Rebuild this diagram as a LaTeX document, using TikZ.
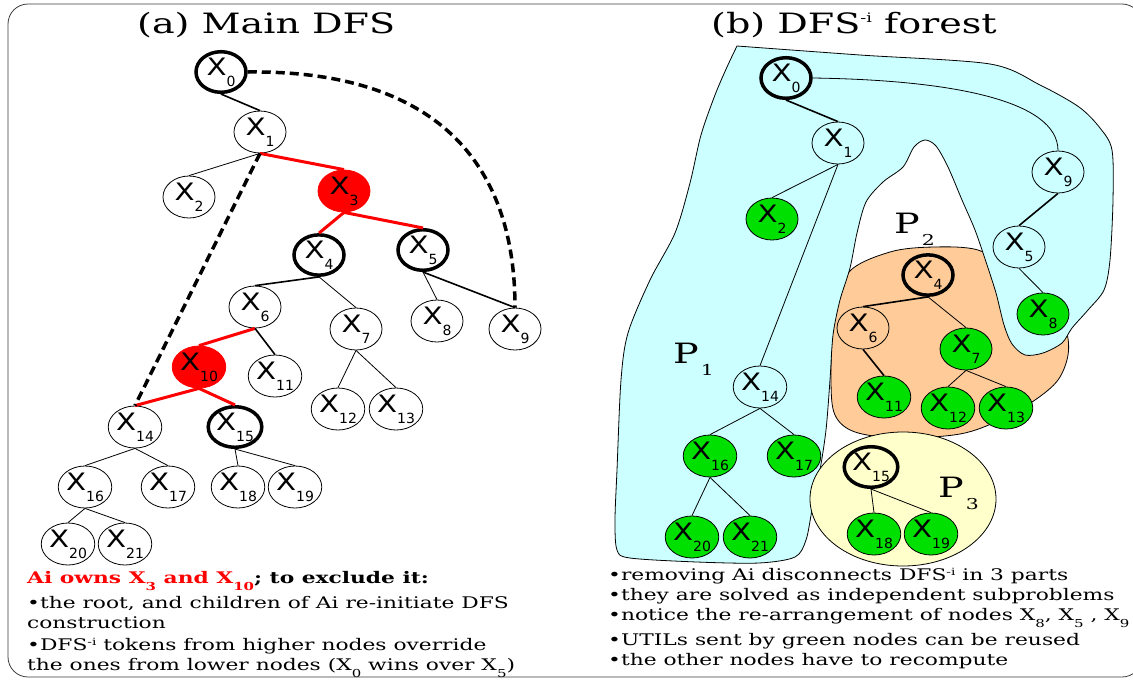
\documentclass[tikz,border=0pt]{standalone}
\usepackage{fontspec}
\setmainfont{DejaVu Serif}[FakeStretch=1.36]
\newfontfamily\lab{DejaVu Sans}[FakeStretch=1.22]
\newfontfamily\labsub{DejaVu Sans}
\usetikzlibrary{shapes.geometric}
\definecolor{ngreen}{RGB}{0,224,0}
\definecolor{rcyan}{RGB}{204,255,255}
\definecolor{rpeach}{RGB}{255,204,153}
\definecolor{ryellow}{RGB}{255,255,204}
\definecolor{bord}{RGB}{60,60,60}
\newcommand\xl[1]{{\lab\fontsize{24}{24}\selectfont X\raisebox{-11pt}{\labsub\fontsize{14}{14}\selectfont #1}}}
\newcommand\dn[1]{\raisebox{-7pt}{\fontsize{11}{11}\selectfont #1}}
\newcommand\up[1]{\raisebox{5pt}{\fontsize{10}{10}\selectfont #1}}
\newcommand\pl[1]{{\fontsize{28}{28}\selectfont P\kern2pt\raisebox{-12pt}{\fontsize{15}{15}\selectfont #1}}}
\begin{document}
\begin{tikzpicture}[x=1pt,y=-1pt,
  nd/.style={ellipse, draw, line width=0.8pt, minimum width=52pt, minimum height=42pt, inner sep=0pt},
  wnd/.style={nd, fill=white},
  thk/.style={nd, line width=3.5pt, minimum width=50pt, minimum height=40pt},
  rednd/.style={nd, fill=red, draw=red},
  grn/.style={nd, fill=ngreen},
  ethin/.style={line width=0.8pt},
  emed/.style={line width=1.6pt},
  ered/.style={red, line width=3pt},
  edash/.style={line width=3.5pt, dash pattern=on 9pt off 5pt},
  txt/.style={anchor=base west, inner sep=0pt, font=\fontsize{16}{16}\selectfont},
  ttl/.style={anchor=base west, inner sep=0pt, font=\fontsize{28}{28}\selectfont},
  region/.style={draw, line width=0.8pt}
]
\useasboundingbox (0,0) rectangle (1133,681);
\draw[bord, line width=0.8pt, rounded corners=20pt] (8,4) rectangle (1142,677);

% titles
\node[ttl] (ta) at (137,33) {(a) Main DFS};
\node[ttl] (tb) at (711,33) {(b) DFS\raisebox{11pt}{\fontsize{13}{13}\selectfont -i} forest};

% ---------------- left tree
\node[thk, fill=white] (a0) at (221,72) {\xl{0}};
\node[wnd] (a1) at (260,132) {\xl{1}};
\node[wnd] (a2) at (189,197) {\xl{2}};
\node[rednd] (a3) at (344,191) {\xl{3}};
\node[thk, fill=white] (a4) at (319,255) {\xl{4}};
\node[thk, fill=white] (a5) at (423,250) {\xl{5}};
\node[wnd] (a6) at (255,307) {\xl{6}};
\node[wnd] (a7) at (356,329) {\xl{7}};
\node[wnd] (a8) at (437,321) {\xl{8}};
\node[wnd] (a9) at (515,329) {\xl{9}};
\node[rednd] (a10) at (199,367) {\xl{10}};
\node[wnd] (a11) at (275,376) {\xl{11}};
\node[wnd] (a12) at (338,409) {\xl{12}};
\node[wnd] (a13) at (396,409) {\xl{13}};
\node[wnd] (a14) at (135,427) {\xl{14}};
\node[thk, fill=white] (a15) at (235,427) {\xl{15}};
\node[wnd] (a16) at (85,487) {\xl{16}};
\node[wnd] (a17) at (168,487) {\xl{17}};
\node[wnd] (a18) at (238,487) {\xl{18}};
\node[wnd] (a19) at (295,487) {\xl{19}};
\node[wnd] (a20) at (68,544) {\xl{20}};
\node[wnd] (a21) at (125,544) {\xl{21}};

\draw[emed] (a0.south) -- (a1.north);
\draw[ethin] (a1.south) -- (a2.north);
\draw[ered] (a1.south) -- (a3.north);
\draw[ered] (a3.south) -- (a4.north);
\draw[ered] (a3.south) -- (a5.north);
\draw[emed] (a4.south) -- (a6.north);
\draw[ethin] (a4.south) -- (a7.north);
\draw[ethin] (a5.south) -- (a8.north);
\draw[emed] (a5.south) -- (a9.north);
\draw[ered] (a6.south) -- (a10.north);
\draw[emed] (a6.south) -- (a11.north);
\draw[ethin] (a7.south) -- (a12.north);
\draw[ethin] (a7.south) -- (a13.north);
\draw[ered] (a10.south) -- (a14.north);
\draw[ered] (a10.south) -- (a15.north);
\draw[ethin] (a14.south) -- (a16.north);
\draw[ethin] (a14.south) -- (a17.north);
\draw[ethin] (a15.south) -- (a18.north);
\draw[ethin] (a15.south) -- (a19.north);
\draw[ethin] (a16.south) -- (a20.north);
\draw[ethin] (a16.south) -- (a21.north);
\draw[edash] (a1.south) -- (a14.north);
\draw[edash] (a0.east) .. controls (410,70) and (515,140) .. (a9.north);

% ---------------- right regions
\draw[region, fill=rpeach] plot[smooth cycle, tension=0.55] coordinates {
 (848,273) (890,252) (934,247) (978,250) (1010,270) (1050,300) (1066,330) (1068,355)
 (1058,380) (1035,400) (1000,420) (960,434) (900,438) (855,432) (835,415) (831,380) (834,320)};
\draw[region, fill=rcyan] plot[smooth, tension=0.5] coordinates {
 (737,46) (860,55) (990,64) (1040,85) (1079,107) (1100,128) (1112,150) (1113,200)
 (1110,260) (1104,290) (1088,310) (1072,328) (1062,343) (1043,353) (1025,355) (1012,344)
 (1004,325) (996,293) (986,262) (975,230) (962,200) (948,167) (936,146) (925,140)
 (914,147) (903,167) (883,182) (866,202) (857,233) (850,268) (840,300) (833,335)
 (830,380) (826,430) (820,470) (812,510) (806,540) (795,557) (759,563) (697,562)
 (630,558) (617,550) (615,520) (617,470) (621,380) (628,333) (650,280) (675,233)
 (690,183) (701,135) (715,95) (727,67) (737,46)} -- cycle;
\draw[region, fill=ryellow] (903,499) ellipse[x radius=93, y radius=67];

\node[anchor=base west, inner sep=0pt] (p1) at (673,363) {\pl{1}};
\node[anchor=base west, inner sep=0pt] (p2) at (894,233) {\pl{2}};
\node[anchor=base west, inner sep=0pt] (p3) at (938,497) {\pl{3}};

% ---------------- right tree
\node[thk] (b0) at (786,78) {\xl{0}};
\node[nd] (b1) at (838,143) {\xl{1}};
\node[grn] (b2) at (772,219) {\xl{2}};
\node[nd] (b9) at (1058,172) {\xl{9}};
\node[nd] (b5) at (1019,247) {\xl{5}};
\node[grn] (b8) at (1043,314) {\xl{8}};
\node[thk] (b4) at (928,275) {\xl{4}};
\node[nd] (b6) at (863,328) {\xl{6}};
\node[grn] (b7) at (966,349) {\xl{7}};
\node[grn] (b11) at (884,397) {\xl{11}};
\node[grn] (b12) at (948,408) {\xl{12}};
\node[grn] (b13) at (1006,408) {\xl{13}};
\node[nd] (b14) at (760,387) {\xl{14}};
\node[grn] (b16) at (710,456) {\xl{16}};
\node[grn] (b17) at (794,456) {\xl{17}};
\node[grn] (b20) at (692,537) {\xl{20}};
\node[grn] (b21) at (750,537) {\xl{21}};
\node[thk] (b15) at (871,467) {\xl{15}};
\node[grn] (b18) at (874,534) {\xl{18}};
\node[grn] (b19) at (931,534) {\xl{19}};

\draw[emed] (b0.south) -- (b1.north);
\draw[ethin] (b0.east) .. controls (950,80) and (1058,100) .. (b9.north);
\draw[ethin] (b1.south) -- (b2.north);
\draw[ethin] (b1.south) -- (b14.north);
\draw[emed] (b9.south) -- (b5.north);
\draw[ethin] (b5.south) -- (b8.north);
\draw[emed] (b4.south) -- (b6.north);
\draw[ethin] (b4.south) -- (b7.north);
\draw[emed] (b6.south) -- (b11.north);
\draw[ethin] (b7.south) -- (b12.north);
\draw[ethin] (b7.south) -- (b13.north);
\draw[ethin] (b14.south) -- (b16.north);
\draw[ethin] (b14.south) -- (b17.north);
\draw[ethin] (b16.south) -- (b20.north);
\draw[ethin] (b16.south) -- (b21.north);
\draw[ethin] (b15.south) -- (b18.north);
\draw[ethin] (b15.south) -- (b19.north);

% ---------------- texts
\node[txt, font=\fontsize{16}{16}\selectfont\bfseries] (l0) at (27,583) {{\color{red}Ai owns X\dn{3} and X\dn{10}}; to exclude it:};
\node[txt] (l1) at (27,608) {•the root, and children of Ai re-initiate DFS};
\node[txt] (l2) at (27,628) {construction};
\node[txt] (l3) at (27,650) {•DFS\up{-i} tokens from higher nodes override};
\node[txt] (l4) at (27,670) {the ones from lower nodes (X\dn{0} wins over X\dn{5})};

\node[txt] (r1) at (608,580) {•removing Ai disconnects DFS\up{-i} in 3 parts};
\node[txt] (r2) at (608,600) {•they are solved as independent subproblems};
\node[txt] (r3) at (608,620) {•notice the re-arrangement of nodes X\dn{8}, X\dn{5} , X\dn{9}};
\node[txt] (r4) at (608,645) {•UTILs sent by green nodes can be reused};
\node[txt] (r5) at (608,665) {•the other nodes have to recompute};
\end{tikzpicture}
\end{document}
